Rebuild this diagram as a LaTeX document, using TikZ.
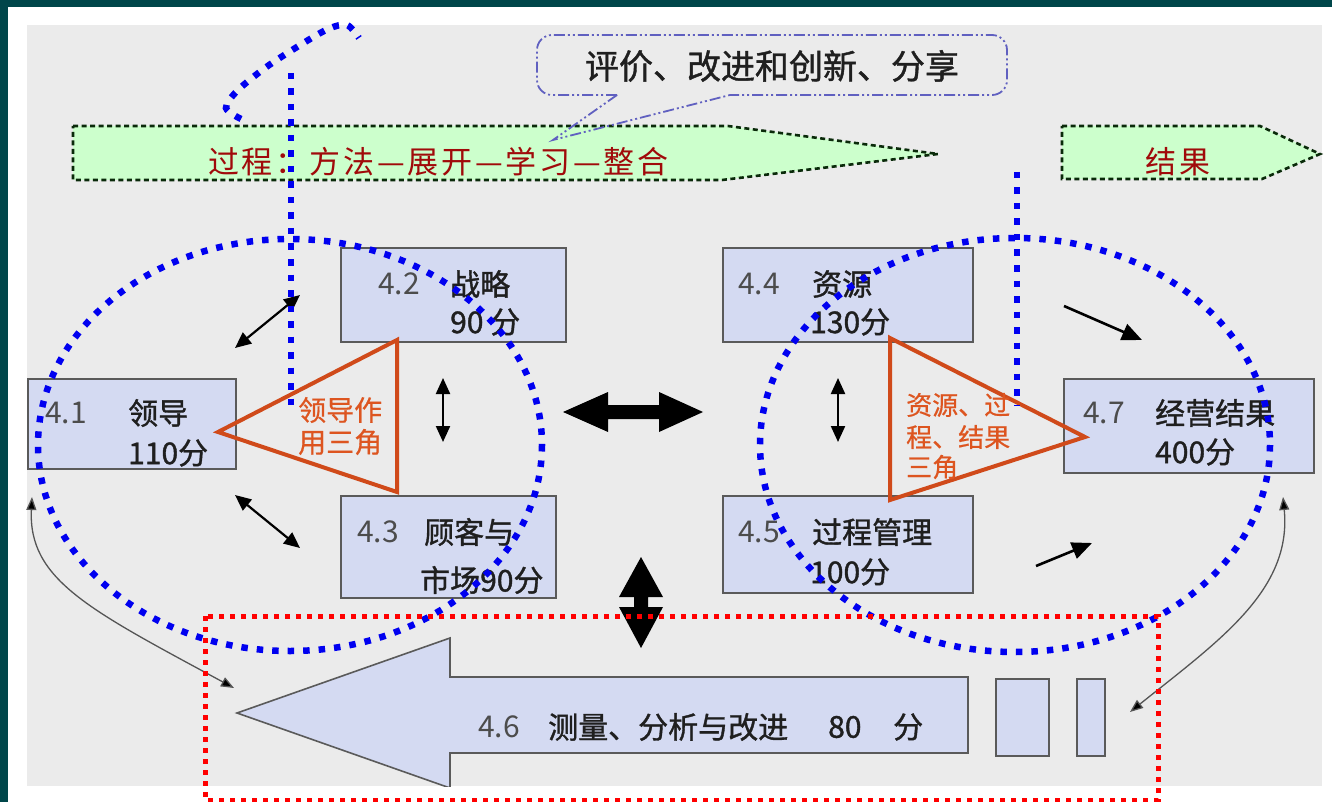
\documentclass[tikz,border=0pt]{standalone}
\usepackage{fontspec}
\setmainfont{Noto Sans CJK SC}
\newfontfamily\cjkbold[FakeBold=1.2]{Noto Sans CJK SC}
\newfontfamily\cjkmid[FakeBold=0.6]{Noto Sans CJK SC}
\newfontfamily\cjkspaced[LetterSpace=9]{Noto Sans CJK SC}
\usetikzlibrary{arrows.meta}
\definecolor{framecol}{HTML}{00464A}
\definecolor{panelcol}{HTML}{EBEBEB}
\definecolor{boxfill}{HTML}{D4DAF2}
\definecolor{boxline}{HTML}{5A5A5A}
\definecolor{procfill}{HTML}{CCFFCC}
\definecolor{procline}{HTML}{0A2A0A}
\definecolor{proctext}{HTML}{A00A0A}
\definecolor{dotblue}{HTML}{0000F0}
\definecolor{dotred}{HTML}{FF0000}
\definecolor{trired}{HTML}{D04A1A}
\definecolor{tritext}{HTML}{DD5520}
\definecolor{calline}{HTML}{6060C0}
\definecolor{curvecol}{HTML}{555555}
\tikzset{
  boxnode/.style={draw=boxline, line width=1.6pt, fill=boxfill, inner sep=0pt, anchor=north west},
  txt/.style={inner sep=0pt, anchor=west, text=black!88, font=\cjkbold\fontsize{30}{34}\selectfont},
  numtxt/.style={inner sep=0pt, anchor=west, text=black!70, font=\fontsize{30}{34}\selectfont},
  proctxt/.style={inner sep=0pt, text=proctext, font=\cjkspaced\fontsize{31}{34}\selectfont},
  tritxt/.style={inner sep=0pt, anchor=west, text=tritext, font=\cjkmid\fontsize{28}{32}\selectfont},
  procshape/.style={draw=procline, fill=procfill, line width=2.6pt, dash pattern=on 5pt off 3.5pt},
  bluedot/.style={draw=dotblue, line width=6.5pt, dash pattern=on 6.5pt off 9pt},
  reddot/.style={draw=dotred, line width=5pt, dash pattern=on 5pt off 6pt},
  tri/.style={draw=trired, line width=4pt, line join=miter},
  dblarrow/.style={draw=black, line width=2.2pt, {Triangle[length=16pt,width=14pt]}-{Triangle[length=16pt,width=14pt]}},
  sglarrow/.style={draw=black, line width=2.6pt, -{Triangle[length=20pt,width=17pt]}},
  curvearrow/.style={draw=curvecol, line width=1.3pt, {Triangle[length=13pt,width=10pt,fill=black]}-{Triangle[length=13pt,width=10pt,fill=black]}},
  calstyle/.style={draw=calline, line width=1.8pt, dash pattern=on 11pt off 3pt on 2pt off 3pt on 2pt off 3pt},
}
\begin{document}
\begin{tikzpicture}[x=1pt,y=-1pt]
\useasboundingbox (0,0) rectangle (1332,802);
% frame and panel
\fill[framecol] (0,0) rectangle (1332,802);
\fill[white] (8,7) rectangle (1332,802);
\fill[panelcol] (27,25) rectangle (1322,786);

% process arrows
\draw[procshape] (73,126) -- (728,126) -- (938,154) -- (722,180) -- (73,180) -- cycle;
\node[proctxt, anchor=west] (proc) at (208,162) {过程：方法—展开—学习—整合};
\draw[procshape] (1062,126) -- (1260,126) -- (1320,154) -- (1262,179) -- (1062,179) -- cycle;
\node[proctxt] (res) at (1178,162) {结果};

% callout
\draw[calstyle, rounded corners=15pt] (617,95) -- (537,95) -- (537,35) -- (1007,35) -- (1007,95) -- (730,95);
\draw[calstyle] (617,95) -- (553,140) -- (730,95);
\node[inner sep=0pt, font=\cjkbold\fontsize{34}{36}\selectfont, text=black!88] (cal) at (772,66) {评价、改进和创新、分享};

% boxes
\node[boxnode, minimum width=208, minimum height=90] (b41) at (27,378) {};
\node[boxnode, minimum width=225, minimum height=94] (b42) at (340,247) {};
\node[boxnode, minimum width=215, minimum height=102] (b43) at (340,495) {};
\node[boxnode, minimum width=250, minimum height=94] (b44) at (722,247) {};
\node[boxnode, minimum width=250, minimum height=97] (b45) at (722,495) {};
\node[boxnode, minimum width=250, minimum height=94] (b47) at (1063,378) {};

% big arrow 4.6 (clipped by the panel)
\begin{scope}
\clip (27,25) rectangle (1322,786);
\draw[draw=boxline, line width=1.6pt, fill=boxfill] (237,713) -- (450,638) -- (450,677) -- (968,677) -- (968,753) -- (450,753) -- (450,788) -- cycle;
\end{scope}
\node[boxnode, minimum width=53, minimum height=77] (s1) at (995,678) {};
\node[boxnode, minimum width=28, minimum height=77] (s2) at (1076,678) {};

% box texts
\node[numtxt] (t41a) at (45,413) {4.1};
\node[txt] (t41b) at (128,413) {领导};
\node[txt] (t41c) at (128,453) {110分};
\node[numtxt] (t42a) at (378,284) {4.2};
\node[txt] (t42b) at (450,284) {战略};
\node[txt] (t42c) at (450,322) {90 分};
\node[numtxt] (t43a) at (357,532) {4.3};
\node[txt] (t43b) at (424,532) {顾客与};
\node[txt] (t43c) at (420,580) {市场90分};
\node[numtxt] (t44a) at (738,284) {4.4};
\node[txt] (t44b) at (812,284) {资源};
\node[txt] (t44c) at (810,322) {130分};
\node[numtxt] (t45a) at (738,532) {4.5};
\node[txt] (t45b) at (812,532) {过程管理};
\node[txt] (t45c) at (810,572) {100分};
\node[numtxt] (t47a) at (1083,413) {4.7};
\node[txt] (t47b) at (1155,413) {经营结果};
\node[txt] (t47c) at (1155,452) {400分};
\node[numtxt] (t46a) at (478,727) {4.6};
\node[txt] (t46b) at (548,727) {测量、分析与改进};
\node[txt] (t46c) at (828,727) {80};
\node[txt] (t46d) at (893,727) {分};

% triangles
\draw[tri] (218,432) -- (397,340) -- (397,492) -- cycle;
\node[tritxt] (tl1) at (298,410) {领导作};
\node[tritxt] (tl2) at (298,442) {用三角};
\draw[tri] (890,338) -- (1085,437) -- (890,500) -- cycle;
\node[tritxt, font=\cjkmid\fontsize{26}{30}\selectfont] (tr1) at (906,405) {资源、过};
\node[tritxt, font=\cjkmid\fontsize{26}{30}\selectfont] (tr2) at (906,437) {程、结果};
\node[tritxt, font=\cjkmid\fontsize{26}{30}\selectfont] (tr3) at (906,467) {三角};

% thin arrows
\coordinate (a1s) at (235,348); \coordinate (a1e) at (300,295);
\coordinate (a2s) at (235,495); \coordinate (a2e) at (300,548);
\coordinate (a3s) at (443,378); \coordinate (a3e) at (443,442);
\coordinate (a4s) at (838,378); \coordinate (a4e) at (838,442);
\coordinate (a5s) at (1064,306); \coordinate (a5e) at (1142,340);
\coordinate (a6s) at (1036,566); \coordinate (a6e) at (1092,543);
\draw[dblarrow] (a1s) -- (a1e);
\draw[dblarrow] (a2s) -- (a2e);
\draw[dblarrow] (a3s) -- (a3e);
\draw[dblarrow] (a4s) -- (a4e);
\draw[sglarrow] (a5s) -- (a5e);
\draw[sglarrow] (a6s) -- (a6e);

% big double arrows
\fill[black] (563,412) -- (608,392) -- (608,405) -- (659,405) -- (659,392) -- (703,412) -- (659,432) -- (659,419) -- (608,419) -- (608,432) -- cycle;
\fill[black] (641,557) -- (663,597) -- (648,597) -- (648,607) -- (663,607) -- (641,648) -- (619,607) -- (634,607) -- (634,597) -- (619,597) -- cycle;

% curved arrows
\coordinate (c1s) at (32,497); \coordinate (c1e) at (234,688);
\coordinate (c2s) at (1283,497); \coordinate (c2e) at (1130,712);
\draw[curvearrow] (c1s) .. controls (28,580) and (90,610) .. (c1e);
\draw[curvearrow] (c2s) .. controls (1292,590) and (1220,640) .. (c2e);

% blue dotted
\draw[bluedot] (290,445) ellipse [x radius=252, y radius=206];
\draw[bluedot] (1015,445) ellipse [x radius=255, y radius=207];
\draw[bluedot] (291,73) -- (291,405);
\draw[bluedot] (1017,172) -- (1017,405);
\draw[bluedot] plot[smooth] coordinates {(241,119) (226,108) (237,91) (265,68) (297,47) (328,29) (347,25) (359,38)};

% red dotted box
\draw[reddot] (205,616) rectangle (1158,800);
\end{tikzpicture}
\end{document}
